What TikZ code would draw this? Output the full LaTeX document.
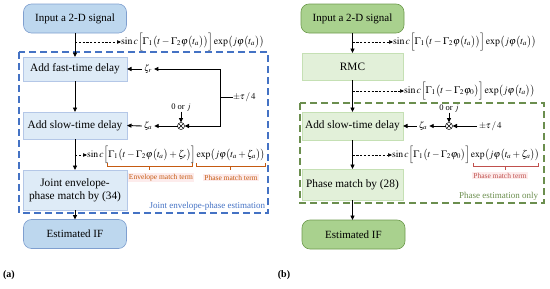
\documentclass[tikz,border=0pt]{standalone}
\usepackage{mathptmx}
\usepackage{fontspec}
\setmainfont{Liberation Serif}
\usetikzlibrary{arrows.meta,calc}
\definecolor{bluefill}{HTML}{BDD7EE}
\definecolor{blueedge}{HTML}{7F9FCF}
\definecolor{lightblue}{HTML}{DEEBF7}
\definecolor{lightblueedge}{HTML}{B4C7E7}
\definecolor{dashblue}{HTML}{4472C4}
\definecolor{greenfill}{HTML}{A9D18E}
\definecolor{greenedge}{HTML}{6E9B4E}
\definecolor{lightgreen}{HTML}{E2F0D9}
\definecolor{lightgreenedge}{HTML}{C5E0B4}
\definecolor{dashgreen}{HTML}{6B8E4E}
\definecolor{termred}{HTML}{C0504D}
\definecolor{termorange}{HTML}{C55A11}
\definecolor{termbg}{HTML}{FDECEC}
\begin{document}
\begin{tikzpicture}[x=1pt,y=-1pt,
  every node/.style={inner sep=0pt, outer sep=0pt},
  endbox/.style={rounded corners=8pt, line width=0.6pt, minimum width=103pt, minimum height=29pt, font=\fontsize{11}{12}\selectfont},
  blueend/.style={endbox, fill=bluefill, draw=blueedge},
  greenend/.style={endbox, fill=greenfill, draw=greenedge},
  procbox/.style={line width=0.4pt, minimum width=104pt, align=center, font=\fontsize{11.3}{13}\selectfont},
  blueproc/.style={procbox, fill=lightblue, draw=lightblueedge},
  greenproc/.style={procbox, fill=lightgreen, draw=lightgreenedge, minimum width=101pt},
  arr/.style={-{Triangle[length=4.5pt,width=4pt]}, line width=0.9pt},
  darr/.style={dash pattern=on 2.2pt off 1.6pt, -{Triangle[length=4pt,width=3.5pt]}, line width=0.5pt},
  formula/.style={anchor=west, font=\fontsize{9.9}{11}\selectfont},
  formulab/.style={anchor=west, font=\fontsize{9.7}{11}\selectfont},
  zeta/.style={font=\fontsize{9}{10}\selectfont},
  mult/.style={circle, draw, line width=0.5pt, minimum size=7pt},
  termlabel/.style={fill=termbg, inner sep=1pt, font=\fontsize{7.5}{8}\selectfont},
  bracecol/.style={line width=0.6pt},
  dashframe/.style={dash pattern=on 7pt off 4pt, line width=1.1pt},
  sublabel/.style={font=\fontsize{10}{11}\selectfont\bfseries},
  smalltext/.style={font=\fontsize{8.5}{9.5}\selectfont},
]
\useasboundingbox (0,0) rectangle (550,289);

% ---------------- panel (a) ----------------
\draw[dashframe, draw=dashblue] (19,52) rectangle (268,213);
\node[blueend] (in1) at (75,18.5) {Input a 2-D signal};
\node[blueproc, minimum height=24pt] (fast) at (75,69) {Add fast-time delay};
\node[blueproc, minimum height=27pt] (slow) at (75,125.5) {Add slow-time delay};
\node[blueproc, minimum height=40pt] (joint) at (75,190) {Joint envelope-\\phase match by (34)};
\node[blueend] (est1) at (75,234) {Estimated IF};

\draw[arr] (in1) -- (fast);
\draw[arr] (fast) -- (slow);
\draw[arr] (slow) -- (joint);
\draw[arr] (joint) -- (est1);

\coordinate (d1) at (75,42);
\node[formula] (f1) at (121,42) {$\sin c\Bigl[\Gamma_1\bigl(t-\Gamma_2\varphi\bigl(t_a\bigr)\bigr)\Bigr]\exp\bigl(j\varphi\bigl(t_a\bigr)\bigr)$};
\draw[darr] (d1) -- (f1.west);

\node[zeta] (zr) at (148,69) {$\zeta_r$};
\node[zeta] (za) at (148,126) {$\zeta_a$};
\node[mult] (m1) at (181,126) {};
\draw[line width=0.5pt] (m1.north west) -- (m1.south east) (m1.south west) -- (m1.north east);
\node[smalltext] (oj1) at (181,108) {0 or $j$};
\coordinate (c1) at (220,69);
\coordinate (c2) at (220,126);
\coordinate (c3) at (220,97);
\node[anchor=west, font=\fontsize{9}{10}\selectfont] (tau1) at (233,97) {$\pm\tau\,/\,4$};
\draw[arr] (zr.west) ++(-2,0) -- (fast.east);
\draw[arr] (c1) -- (c2) -- (m1.east);
\draw[arr] (c1) -- ($(zr.east)+(2,0)$);
\draw[line width=0.9pt] (c3) -- (tau1.west);
\draw[arr] (m1.west) -- ($(za.east)+(2,0)$);
\draw[arr] (za.west) ++(-2,0) -- (slow.east);
\draw[arr] (oj1.south) -- (m1.north);

\coordinate (d2) at (75,155);
\node[formulab] (f2) at (87,155) {$\sin c\Bigl[\Gamma_1\bigl(t-\Gamma_2\varphi\bigl(t_a\bigr)+\zeta_r\bigr)\Bigr]\exp\bigl(j\varphi\bigl(t_a+\zeta_a\bigr)\bigr)$};
\draw[darr] (d2) -- (f2.west);

\draw[bracecol, draw=termorange] (107,163) -- (107,166) -- (192,166) -- (192,163) (149.5,166) -- (149.5,169.5);
\draw[bracecol, draw=termorange] (196,163) -- (196,166) -- (265,166) -- (265,163) (230.5,166) -- (230.5,169.5);
\node[termlabel, text=termorange] (env) at (161,177.5) {Envelope match term};
\node[termlabel, text=termorange] (ph1) at (231,177.5) {Phase match term};

\node[anchor=south east, text=dashblue, font=\fontsize{9}{10}\selectfont] (jl) at (265,210) {Joint envelope-phase estimation};
\node[sublabel] (la) at (9,275) {(a)};

% ---------------- panel (b) ----------------
\draw[dashframe, draw=dashgreen] (300,103) rectangle (544,203);
\node[greenend] (in2) at (352.5,18.5) {Input a 2-D signal};
\node[greenproc, minimum height=27pt] (rmc) at (352.5,66.5) {RMC};
\node[greenproc, minimum height=28pt] (slow2) at (352.5,126) {Add slow-time delay};
\node[greenproc, minimum height=31pt] (phase) at (352.5,184.5) {Phase match by (28)};
\node[greenend] (est2) at (353.5,234.5) {Estimated IF};

\draw[arr] (in2) -- (rmc);
\draw[arr] (rmc) -- (slow2);
\draw[arr] (slow2) -- (phase);
\draw[arr] (phase.south) -- (phase.south |- est2.north);

\coordinate (e1) at (352.5,42);
\node[formula] (f3) at (393,42) {$\sin c\Bigl[\Gamma_1\bigl(t-\Gamma_2\varphi\bigl(t_a\bigr)\bigr)\Bigr]\exp\bigl(j\varphi\bigl(t_a\bigr)\bigr)$};
\draw[darr] (e1) -- (f3.west);

\coordinate (e2) at (352.5,91);
\node[formula] (f4) at (404,91) {$\sin c\Bigl[\Gamma_1\bigl(t-\Gamma_2\varphi_0\bigr)\Bigr]\exp\bigl(j\varphi\bigl(t_a\bigr)\bigr)$};
\draw[darr] (e2) -- (f4.west);

\node[zeta] (za2) at (423,126) {$\zeta_a$};
\node[mult] (m2) at (449,126) {};
\draw[line width=0.5pt] (m2.north west) -- (m2.south east) (m2.south west) -- (m2.north east);
\node[smalltext] (oj2) at (449,109) {0 or $j$};
\node[anchor=west, font=\fontsize{9}{10}\selectfont] (tau2) at (479,126) {$\pm\tau\,/\,4$};
\draw[arr] (tau2.west) ++(-2,0) -- (m2.east);
\draw[arr] (m2.west) -- ($(za2.east)+(2,0)$);
\draw[arr] (za2.west) ++(-2,0) -- (slow2.east);
\draw[arr] (oj2.south) -- (m2.north);

\coordinate (e3) at (352.5,155);
\node[formulab] (f5) at (392,155) {$\sin c\Bigl[\Gamma_1\bigl(t-\Gamma_2\varphi_0\bigr)\Bigr]\exp\bigl(j\varphi\bigl(t_a+\zeta_a\bigr)\bigr)$};
\draw[darr] (e3) -- (f5.west);

\draw[bracecol, draw=termred] (473,163) -- (473,166) -- (538,166) -- (538,163) (505.5,166) -- (505.5,169.5);
\node[termlabel, text=termred] (ph2) at (500,175.5) {Phase match term};

\node[anchor=south east, text=dashgreen, font=\fontsize{9}{10}\selectfont] (pl) at (538,200) {Phase estimation only};
\node[sublabel] (lb) at (284,275) {(b)};
\end{tikzpicture}
\end{document}
